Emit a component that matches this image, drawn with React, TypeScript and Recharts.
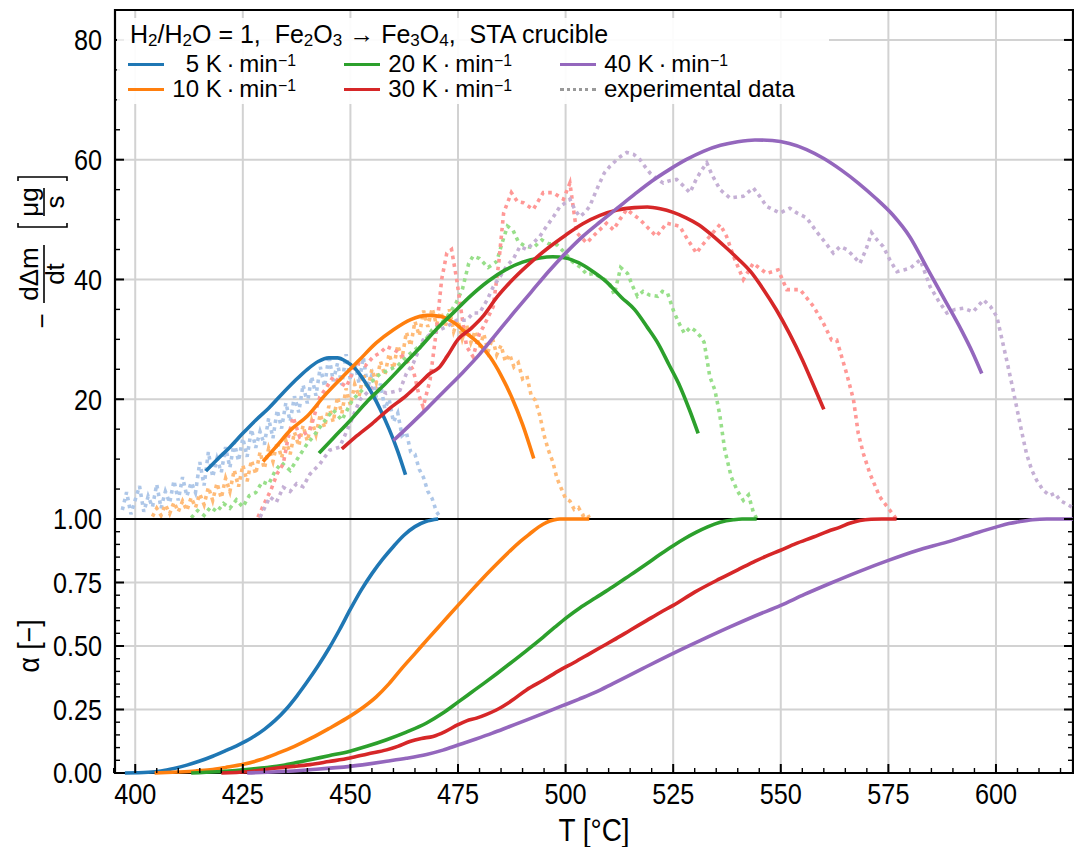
import React from "react";
import { LineChart, Line, XAxis, YAxis, CartesianGrid, ReferenceArea } from "recharts";

// frame of the figure (page pixels)
const FONT = "'Liberation Sans', Arial, sans-serif";
const W = 1074;
const LEFT = 115;
const RIGHT = 1073;
const TOP_H = 519;
const TOP_PAD = 10;
const BOT_H = 328;
const X_AXIS_H = 74;

const X_DOMAIN: [number, number] = [395.3, 617.9];
const X_MAJOR = [400, 425, 450, 475, 500, 525, 550, 575, 600];
const X_MINOR = [395, 405, 410, 415, 420, 430, 435, 440, 445, 455, 460, 465, 470, 480, 485, 490, 495,
  505, 510, 515, 520, 530, 535, 540, 545, 555, 560, 565, 570, 580, 585, 590, 595, 605, 610, 615];
const RATE_MAJOR = [20, 40, 60, 80];
const RATE_MINOR = [5, 10, 15, 25, 30, 35, 45, 50, 55, 65, 70, 75, 85];
const ALPHA_MAJOR = [0, 0.25, 0.5, 0.75, 1];
const ALPHA_MINOR = [0.05, 0.1, 0.15, 0.2, 0.3, 0.35, 0.4, 0.45, 0.55, 0.6, 0.65, 0.7, 0.8, 0.85, 0.9, 0.95];

const RATES = ["5", "10", "20", "30", "40"];
const COLORS = ["#1f77b4", "#ff7f0e", "#2ca02c", "#d62728", "#9467bd"];
const LIGHT = ["#aec7e8", "#ffbb78", "#98df8a", "#ff9896", "#c5b0d5"];

// model curves, -d(dm)/dt in µg/s  [T °C, value]
const MODEL_5 = [[416.4, 8.0], [419, 9.9], [422, 12.0], [425, 14.3], [428, 16.5], [431, 18.5], [434, 20.8],
  [437, 23.0], [440, 25.0], [442.5, 26.3], [445, 26.9], [447, 26.9], [449, 26.3], [451, 25.2], [453, 23.3],
  [455, 21.0], [457, 18.2], [459, 15.0], [461, 11.3], [462.8, 7.4]];
const MODEL_10 = [[429.7, 9.6], [433, 12.3], [436, 14.8], [440, 17.2], [444, 20.6], [448, 23.6], [452, 26.5],
  [456, 29.4], [460, 31.6], [464, 33.3], [468, 34.0], [471, 33.8], [474, 32.8], [477, 31.0], [480, 29.2],
  [482.5, 27.0], [485, 24.0], [487.5, 20.3], [490, 15.8], [492.6, 10.1]];
const MODEL_20 = [[442.7, 11.0], [446, 13.5], [450, 16.5], [454, 19.7], [458, 22.5], [462, 25.5], [466, 28.5],
  [470, 31.7], [474, 34.5], [478, 37.3], [482, 39.7], [486, 41.6], [490, 42.9], [494, 43.6], [497, 43.8],
  [500, 43.6], [503, 42.8], [506, 41.5], [509.5, 39.6], [513, 37.0], [516, 35.0], [519, 32.0], [521.5, 29.3],
  [524, 25.8], [526.6, 22.1], [528.8, 18.2], [530.8, 14.3]];
const MODEL_30 = [[448, 11.7], [451, 13.6], [455, 15.9], [459, 18.4], [463, 20.6], [466, 22.6], [468.5, 24.3],
  [470.5, 25.2], [472.5, 27.2], [475, 30.0], [478, 31.8], [481, 34.0], [484, 37.0], [488, 40.2], [492, 42.9],
  [496, 45.3], [500, 47.4], [504, 49.3], [508, 50.7], [512, 51.6], [516, 52.0], [519, 52.1], [522, 51.8],
  [525, 51.2], [528, 50.3], [531, 49.1], [534, 47.4], [537, 45.5], [540, 43.5], [543, 41.3], [546, 38.3],
  [549, 34.9], [552, 31.0], [555, 26.6], [557.5, 22.5], [560, 18.3]];
const MODEL_40 = [[460, 13.1], [464, 15.8], [468, 18.6], [472, 21.5], [476, 24.4], [480, 27.5], [484, 31.0],
  [488, 34.5], [492, 37.9], [496, 41.3], [500, 44.4], [504, 47.2], [508, 49.6], [512, 51.9], [516, 54.2],
  [520, 56.4], [524, 58.3], [528, 60.0], [532, 61.4], [536, 62.4], [540, 63.0], [544, 63.3], [548, 63.2],
  [552, 62.7], [556, 61.7], [560, 60.2], [564, 58.3], [568, 56.1], [572, 53.6], [576, 50.8], [580, 47.1],
  [584, 41.9], [588, 36.7], [592, 31.5], [594.5, 27.9], [596.7, 24.3]];

// experimental (STA) curves
const EXP_5 = [[397, 1.5], [398, 4.5], [399, 0.8], [400, 3.2], [401, 5.5], [402, 1.2], [403, 3.8], [404, 2.0],
  [405, 5.8], [406, 1.8], [407, 4.6], [408, 2.7], [409, 6.4], [410, 3.1], [411, 7.0], [412, 3.8], [413, 6.1],
  [414, 4.4], [415, 9.5], [416, 5.6], [417, 11.2], [418, 7.0], [419, 10.1], [420, 7.8], [421, 12.0], [422, 8.6],
  [423, 12.8], [424, 9.7], [425, 13.5], [426, 10.4], [427, 15.0], [428, 11.9], [429, 14.6], [430, 12.4],
  [431, 16.8], [432, 13.5], [433, 18.2], [434, 15.1], [435, 19.4], [436, 16.3], [437, 20.5], [438, 17.8],
  [439, 22.4], [440, 19.3], [441, 23.8], [442, 20.6], [443, 25.4], [444, 22.1], [445, 27.3], [446, 23.0],
  [447, 26.0], [448, 22.4], [449, 27.5], [450, 23.2], [451, 26.1], [452, 22.7], [453, 27.0], [454, 22.0],
  [455, 24.1], [456, 20.3], [457, 22.6], [458, 18.4], [459, 20.0], [460, 16.2], [461, 17.7], [462, 13.9],
  [463, 14.5], [464, 11.2], [465, 10.8], [466, 8.3], [467, 6.9], [468, 4.6], [469, 3.4], [470, 1.2], [470.8, 0.4]];
const EXP_10 = [[404, 0.4], [405, 1.8], [406, 0.6], [407, 2.4], [408, 0.9], [409, 2.8], [410, 1.2], [411, 3.0],
  [412, 1.4], [413, 3.6], [414, 1.9], [415, 4.2], [416, 2.4], [417, 5.3], [418, 3.1], [419, 6.0], [420, 3.5],
  [421, 6.8], [422, 4.6], [423, 8.2], [424, 5.4], [425, 9.0], [426, 6.3], [427, 9.8], [428, 7.5], [429, 11.2],
  [430, 8.4], [431, 11.8], [432, 9.6], [433, 12.9], [434, 10.2], [435, 13.1], [436, 10.8], [437, 14.5],
  [438, 12.2], [439, 15.6], [440, 13.0], [441, 16.4], [442, 14.1], [443, 17.5], [444, 15.3], [445, 18.9],
  [446, 16.2], [447, 20.4], [448, 17.6], [449, 21.8], [450, 19.0], [451, 22.5], [452, 20.4], [453, 24.2],
  [454, 21.7], [455, 25.0], [456, 22.8], [457, 26.3], [458, 24.0], [459, 27.6], [460, 25.1], [461, 29.0],
  [462, 26.8], [463, 31.2], [464, 28.9], [465, 33.0], [466, 30.6], [467, 34.8], [468, 32.1], [469, 35.2],
  [470, 32.4], [471, 34.6], [472, 32.0], [473, 35.0], [474, 31.3], [475, 33.2], [476, 30.1], [477, 32.4],
  [478, 29.5], [479, 31.4], [480, 28.6], [481, 30.9], [482, 28.0], [483, 30.2], [484, 27.4], [485, 29.0],
  [486, 26.3], [487, 27.5], [488, 25.4], [489, 26.1], [490, 23.4], [491, 23.9], [492, 20.6], [493, 19.8],
  [494, 17.3], [495, 14.0], [496, 11.5], [497, 9.6], [498, 6.8], [499, 5.1], [500, 3.4], [501, 3.0],
  [502, 1.6], [503, 1.9], [504, 0.6], [505, 0.9], [505.5, 0.2]];
const EXP_20 = [[413, 0.2], [414.5, 1.4], [416, 0.6], [417.5, 2.0], [419, 1.2], [420.5, 2.6], [422, 1.8],
  [423.5, 3.2], [425, 2.0], [426.5, 3.9], [428, 4.4], [429.5, 6.2], [431, 5.8], [432.5, 8.0], [434, 9.4],
  [436, 8.1], [438, 10.4], [440, 12.6], [441.5, 13.9], [443.5, 15.9], [446, 18.2], [448, 16.5], [450.5, 19.9],
  [452, 21.0], [453.5, 22.1], [455, 23.0], [457, 24.3], [459, 24.9], [461, 25.6], [463, 27.1], [465, 28.3],
  [467, 29.4], [469, 31.6], [471, 32.6], [472.5, 33.8], [474.5, 36.0], [476, 38.3], [477.5, 42.7],
  [478.5, 43.9], [480, 43.5], [482, 42.0], [484, 43.0], [485.2, 46.0], [486.5, 48.9], [487.8, 48.2],
  [489, 46.3], [490.5, 45.6], [492.5, 45.3], [494.5, 46.6], [496, 46.0], [498, 45.8], [500, 44.3],
  [501.5, 43.0], [503.5, 42.0], [505, 40.8], [506.6, 41.0], [508.5, 40.2], [510, 39.6], [511.3, 37.5],
  [512.8, 42.0], [514.4, 41.0], [515.5, 39.0], [516.7, 37.2], [518, 38.0], [519.5, 37.4], [521.4, 37.2],
  [522.5, 38.0], [523.7, 37.7], [525.2, 34.5], [526.5, 32.5], [527.6, 31.0], [529, 32.0], [530, 31.5],
  [531.3, 30.5], [532.2, 29.5], [533.5, 23.8], [534.7, 21.5], [535.8, 17.5], [537, 11.5], [538.5, 7.0],
  [540, 4.6], [541.3, 3.1], [542.5, 4.0], [543.6, 1.2], [544.4, 0.1]];
const EXP_30 = [[428.5, 0.3], [430, 2.6], [431.5, 4.8], [433, 7.6], [434.4, 9.2], [435.5, 13.5], [436.7, 17.0],
  [438.2, 13.7], [440.6, 14.8], [442.9, 20.4], [444.5, 22.0], [446, 23.8], [447.5, 22.8], [449.1, 22.1],
  [451.4, 26.0], [453.5, 25.6], [455.3, 27.1], [457, 27.8], [458.4, 28.8], [460, 28.3], [461.5, 27.7],
  [463, 26.5], [464.6, 24.9], [466, 20.5], [466.9, 18.7], [468.5, 23.2], [470, 31.6], [471.2, 40.0],
  [472.4, 44.4], [473.5, 45.0], [474.7, 40.0], [475.8, 34.4], [477, 28.8], [478.5, 27.1], [480, 31.0],
  [480.9, 32.1], [482.2, 34.0], [483.2, 35.5], [484.5, 43.0], [485.6, 51.1], [487.4, 54.5], [488.8, 53.0],
  [490.2, 52.8], [492.5, 51.7], [494.8, 54.5], [497.1, 54.5], [499.5, 53.4], [501, 56.1], [502.6, 47.8],
  [504.9, 46.1], [507.2, 47.8], [509.5, 49.4], [511.1, 48.3], [512.6, 50.0], [514.2, 51.7], [515.8, 50.8],
  [517.3, 50.0], [519.3, 48.5], [521.1, 47.2], [523.5, 49.4], [526.5, 48.9], [528.5, 46.5], [530.4, 44.4],
  [531.5, 45.5], [533.5, 47.2], [535.9, 49.2], [537.4, 47.2], [539, 43.9], [541.3, 40.0], [543.6, 42.7],
  [546.7, 41.0], [549.4, 41.6], [551.4, 38.3], [554.5, 38.3], [557.6, 35.5], [559.9, 32.7], [561.8, 29.9],
  [563, 29.9], [565.3, 24.3], [566.9, 19.9], [568, 14.3], [569.2, 10.9], [570.7, 7.6], [573, 3.7],
  [575.4, 1.4], [576.9, 0]];
const EXP_40 = [[429, 0.3], [431.3, 3.7], [432.8, 2.8], [434.4, 5.3], [436, 4.6], [437.5, 5.9], [439, 5.4],
  [440.6, 7.5], [442.9, 9.2], [445.2, 11.5], [447.5, 12.0], [449.9, 15.9], [452.2, 19.9], [455.3, 22.1],
  [458.4, 21.0], [461.5, 21.5], [463, 24.3], [464.6, 26.0], [466.9, 29.9], [468.5, 30.8], [470.8, 31.6],
  [472.3, 32.1], [474.7, 33.2], [477, 33.2], [478.5, 34.4], [480, 34.4], [481.7, 36.5], [483.2, 38.8],
  [484.8, 40.5], [486.3, 42.2], [487.9, 43.5], [489.4, 45.5], [491, 45.0], [492.5, 46.1], [494, 47.2],
  [495.6, 48.9], [497.2, 50.5], [498.7, 52.2], [500, 52.8], [501, 53.4], [502.2, 51.6], [503.3, 50.5],
  [504.5, 51.2], [505.6, 52.2], [506.8, 54.3], [507.9, 56.1], [509, 57.8], [510.3, 58.9], [512.3, 60.3],
  [514.2, 61.2], [515.8, 60.9], [517.3, 60.0], [518.5, 58.8], [519.6, 57.8], [521.2, 56.8], [522.7, 56.1],
  [524.2, 56.5], [525.8, 56.7], [527.4, 55.6], [528.9, 54.5], [530.2, 56.5], [531.2, 57.8], [532.8, 59.5],
  [534, 57.5], [535.9, 55.0], [538.2, 53.6], [541.3, 53.9], [543.6, 55.3], [545.2, 53.8], [546.7, 52.2],
  [549.8, 51.1], [552.1, 51.9], [554, 51.0], [556, 50.3], [558.3, 48.0], [560.2, 46.3], [562.2, 44.4],
  [563.8, 45.5], [565.3, 45.0], [566.9, 43.9], [568.4, 42.7], [569.8, 45.0], [571.1, 47.8], [572.5, 46.5],
  [573.8, 45.5], [575.4, 43.2], [577, 41.3], [578.6, 41.6], [580.1, 41.9], [582.4, 43.3], [584.7, 38.8],
  [586.6, 36.5], [588.6, 34.4], [590.5, 35.0], [592.4, 35.2], [594.7, 34.6], [597.1, 36.6], [598.7, 35.5],
  [600.2, 33.8], [601.4, 30.0], [602.5, 26.5], [603.7, 22.5], [604.8, 18.7], [606, 14.5], [607.1, 10.9],
  [608.3, 8.2], [609.5, 6.4], [611, 4.8], [612.5, 3.9], [613.7, 4.3], [614.9, 3.1], [616.4, 2.5], [617.6, 2.0]];

// conversion alpha [-]
const ALPHA_5 = [[397.6, 0], [403, 0.003], [406, 0.008], [409, 0.018], [412, 0.031], [415, 0.047], [418, 0.066],
  [421, 0.088], [424, 0.111], [427, 0.138], [430, 0.172], [432.5, 0.207], [435, 0.25], [437.5, 0.302],
  [440, 0.36], [442.5, 0.422], [445, 0.49], [447.5, 0.565], [450, 0.645], [452.5, 0.72], [455, 0.785],
  [457.5, 0.842], [460, 0.892], [462.5, 0.937], [465, 0.97], [467.5, 0.99], [470.4, 1.0]];
const ALPHA_10 = [[404.5, 0], [410, 0.004], [414, 0.008], [417.4, 0.013], [421, 0.022], [425.1, 0.034],
  [429, 0.052], [433, 0.077], [437, 0.105], [441, 0.138], [445, 0.175], [449, 0.214], [453, 0.259],
  [456, 0.3], [459, 0.352], [462, 0.413], [465, 0.47], [468, 0.528], [471.5, 0.594], [475, 0.66],
  [478, 0.716], [481, 0.771], [484, 0.823], [487, 0.873], [489.5, 0.912], [491.7, 0.942], [493.7, 0.968],
  [495.6, 0.987], [497.2, 0.996], [498.7, 1.0], [505.5, 1.0]];
const ALPHA_20 = [[413, 0], [419, 0.005], [425.1, 0.013], [432.9, 0.026], [436.8, 0.038], [440.6, 0.052],
  [445, 0.068], [449.9, 0.086], [454, 0.106], [458.4, 0.131], [463, 0.161], [467.7, 0.197], [471.5, 0.236],
  [475, 0.279], [478, 0.316], [481, 0.353], [484, 0.391], [487, 0.43], [491, 0.483], [494.8, 0.535],
  [497.5, 0.574], [500.3, 0.613], [503.3, 0.65], [507, 0.69], [511, 0.733], [515, 0.779], [518.8, 0.823],
  [522, 0.861], [525, 0.895], [527.7, 0.923], [530.4, 0.948], [533, 0.969], [535.9, 0.987], [539, 0.997],
  [541, 1.0], [544.4, 1.0]];
const ALPHA_30 = [[420, 0], [426, 0.005], [432.9, 0.02], [436.8, 0.026], [440.6, 0.033], [445, 0.045],
  [449.9, 0.059], [454, 0.075], [458.4, 0.091], [461, 0.105], [463.8, 0.124], [466.5, 0.136], [469.2, 0.144],
  [472, 0.163], [475, 0.19], [477, 0.205], [479.3, 0.216], [481.5, 0.23], [483.9, 0.248], [487.5, 0.285],
  [490.9, 0.327], [494.8, 0.365], [498.7, 0.405], [502, 0.435], [505.7, 0.471], [508.5, 0.498], [511.1, 0.523],
  [515, 0.562], [518.8, 0.6], [522, 0.632], [525, 0.66], [530, 0.712], [535.9, 0.765], [540, 0.8], [543.6, 0.83],
  [546.5, 0.853], [549.8, 0.876], [553.5, 0.903], [557.6, 0.929], [561, 0.952], [563.8, 0.968], [566, 0.983],
  [568.4, 0.994], [571, 0.999], [573.5, 1.0], [576.9, 1.0]];
const ALPHA_40 = [[426, 0], [433, 0.005], [440.6, 0.013], [449.9, 0.026], [454, 0.035], [458.4, 0.046],
  [463, 0.058], [467.7, 0.073], [471.5, 0.09], [475, 0.11], [479, 0.133], [483, 0.157], [487, 0.183],
  [491, 0.209], [495, 0.236], [499, 0.263], [503, 0.29], [507, 0.318], [511, 0.352], [518, 0.412],
  [525, 0.471], [531.5, 0.523], [538.2, 0.575], [544, 0.618], [550, 0.66], [555.5, 0.703], [561.4, 0.746],
  [568, 0.792], [575, 0.837], [581.5, 0.875], [588.6, 0.909], [594.5, 0.94], [600, 0.968], [603, 0.982],
  [605.6, 0.99], [608.5, 0.997], [611.8, 1.0], [617.9, 1.0]];

const MODELS = [MODEL_5, MODEL_10, MODEL_20, MODEL_30, MODEL_40];
const EXPS = [EXP_5, EXP_10, EXP_20, EXP_30, EXP_40];
const ALPHAS = [ALPHA_5, ALPHA_10, ALPHA_20, ALPHA_30, ALPHA_40];

const toPts = (arr: number[][]) => arr.map(([T, v]) => ({ T, v }));

const near = (list: number[], v: number) => list.some((m) => Math.abs(m - v) < 1e-6);

// tick labels are a little condensed in the original
const TICK_FS = 29;
const TICK_SX = 0.87;

// ticks point inward on every side, matplotlib style
function TopXTick(p: any) {
  const major = near(X_MAJOR, p.payload.value);
  const len = major ? 9 : 5;
  return <line x1={p.x} x2={p.x} y1={TOP_PAD} y2={TOP_PAD + len} stroke="#000" strokeWidth={major ? 2 : 1.4} />;
}

function BottomXTick(p: any) {
  const v = p.payload.value;
  const major = near(X_MAJOR, v);
  const len = major ? 9 : 5;
  return (
    <g>
      <line x1={p.x} x2={p.x} y1={p.y} y2={p.y - len} stroke="#000" strokeWidth={major ? 2 : 1.4} />
      {major && (
        <text
          transform={`translate(${p.x},${p.y + 31}) scale(${TICK_SX},1)`}
          textAnchor="middle"
          fontSize={TICK_FS}
          fontFamily={FONT}
          fill="#000"
        >
          {v}
        </text>
      )}
    </g>
  );
}

function makeYTick(majors: number[], fmt: (v: number) => string) {
  return (p: any) => {
    const v = p.payload.value;
    const major = near(majors, v);
    const len = major ? 9 : 5;
    const sw = major ? 2 : 1.4;
    return (
      <g>
        <line x1={LEFT} x2={LEFT + len} y1={p.y} y2={p.y} stroke="#000" strokeWidth={sw} />
        <line x1={RIGHT - len} x2={RIGHT} y1={p.y} y2={p.y} stroke="#000" strokeWidth={sw} />
        {major && (
          <text
            transform={`translate(${LEFT - 13},${p.y}) scale(${TICK_SX},1)`}
            dy="0.36em"
            textAnchor="end"
            fontSize={TICK_FS}
            fontFamily={FONT}
            fill="#000"
          >
            {fmt(v)}
          </text>
        )}
      </g>
    );
  };
}

const rateTick = makeYTick(RATE_MAJOR, (v) => String(v));
const alphaTick = makeYTick(ALPHA_MAJOR, (v) => v.toFixed(2));

// -dΔm/dt [µg/s], written sideways like the original
function RateLabel() {
  return (
    <g transform="translate(44,252) rotate(-90)" fontFamily={FONT} fontSize={26} fill="#000">
      <text x={-69} y={7} textAnchor="middle">−</text>
      <text x={-22} y={-6} textAnchor="middle">dΔm</text>
      <line x1={-51} x2={7} y1={0} y2={0} stroke="#000" strokeWidth={1.6} />
      <text x={-22} y={20} textAnchor="middle">dt</text>
      <path d="M29 -26 L25 -26 L25 23 L29 23" fill="none" stroke="#000" strokeWidth={1.6} />
      <text x={50} y={-6} textAnchor="middle">μg</text>
      <line x1={36} x2={64} y1={0} y2={0} stroke="#000" strokeWidth={1.6} />
      <text x={50} y={20} textAnchor="middle">s</text>
      <path d="M71 -26 L75 -26 L75 23 L71 23" fill="none" stroke="#000" strokeWidth={1.6} />
    </g>
  );
}

function AlphaLabel() {
  return (
    <text transform="translate(39,127) rotate(-90) scale(0.92,1)" textAnchor="middle" fontFamily={FONT} fontSize={29} fill="#000">
      α [−]
    </text>
  );
}

function TLabel() {
  return (
    <text
      transform={`translate(${(LEFT + RIGHT) / 2},322) scale(0.9,1)`}
      textAnchor="middle"
      fontFamily={FONT}
      fontSize={31}
      fill="#000"
    >
      T [°C]
    </text>
  );
}

const sub = (s: string) => (
  <span style={{ fontSize: "0.68em", position: "relative", top: "0.2em", lineHeight: 0 }}>{s}</span>
);
const unit = (
  <>
    {"K\u2009·\u2009min"}
    <span style={{ fontSize: "0.66em", position: "relative", top: "-0.36em", lineHeight: 0 }}>−1</span>
  </>
);

function LegendRow({ left, top, color, rate, dotted }: any) {
  return (
    <div style={{ position: "absolute", left, top, height: 22, display: "flex", alignItems: "center" }}>
      <div
        style={{
          width: 36,
          height: 0,
          borderTop: dotted ? `3px dotted ${color}` : `3.5px solid ${color}`,
          marginRight: dotted ? 8 : 6,
        }}
      />
      {dotted ? (
        <span>experimental data</span>
      ) : (
        <span>
          <span style={{ display: "inline-block", width: 29, textAlign: "right" }}>{rate}</span>
          {" "}
          {unit}
        </span>
      )}
    </div>
  );
}

function LegendBox() {
  return (
    <div
      style={{
        position: "absolute",
        left: 117,
        top: 18,
        width: 712,
        height: 86,
        background: "rgba(255,255,255,0.92)",
        fontFamily: FONT,
        fontSize: 24,
        lineHeight: "22px",
        color: "#000",
        whiteSpace: "nowrap",
      }}
    >
      <div style={{ position: "absolute", left: 13, top: 5, fontSize: 25 }}>
        H{sub("2")}/H{sub("2")}O = 1,&nbsp; Fe{sub("2")}O{sub("3")} → Fe{sub("3")}O{sub("4")},&nbsp; STA crucible
      </div>
      <LegendRow left={11} top={35} color={COLORS[0]} rate={RATES[0]} />
      <LegendRow left={11} top={60} color={COLORS[1]} rate={RATES[1]} />
      <LegendRow left={227} top={35} color={COLORS[2]} rate={RATES[2]} />
      <LegendRow left={227} top={60} color={COLORS[3]} rate={RATES[3]} />
      <LegendRow left={443} top={35} color={COLORS[4]} rate={RATES[4]} />
      <LegendRow left={443} top={60} color="#999999" dotted />
    </div>
  );
}

const X_TICKS = [...X_MAJOR, ...X_MINOR].sort((a, b) => a - b);
const RATE_TICKS = [...RATE_MAJOR, ...RATE_MINOR].sort((a, b) => a - b);
const ALPHA_TICKS = [...ALPHA_MAJOR, ...ALPHA_MINOR].sort((a, b) => a - b);

export default function App() {
  return (
    <div style={{ position: "absolute", left: 0, top: 0, width: W, height: 847, background: "#fff", fontFamily: FONT }}>
      <style>{`.recharts-surface{overflow:visible}`}</style>

      {/* upper panel: mass loss rate */}
      <div style={{ position: "absolute", left: 0, top: 0 }}>
        <LineChart width={W} height={TOP_H} margin={{ top: TOP_PAD, right: W - RIGHT, bottom: 0, left: 0 }}>
          <CartesianGrid verticalValues={X_MAJOR} horizontalValues={RATE_MAJOR} stroke="#d2d2d2" strokeWidth={2} />
          <XAxis
            type="number"
            dataKey="T"
            domain={X_DOMAIN}
            ticks={X_TICKS}
            interval={0}
            height={0}
            tickSize={0}
            tickMargin={0}
            axisLine={false}
            tickLine={false}
            tick={TopXTick}
          />
          <YAxis
            type="number"
            domain={[0, 85]}
            ticks={RATE_TICKS}
            interval={0}
            width={LEFT}
            tickSize={0}
            tickMargin={0}
            axisLine={false}
            tickLine={false}
            tick={rateTick}
            label={<RateLabel />}
          />
          <ReferenceArea x1={X_DOMAIN[0]} x2={X_DOMAIN[1]} y1={0} y2={85} fill="none" stroke="#000" strokeWidth={2.2} />
          {EXPS.map((d, i) => (
            <Line
              key={`exp${i}`}
              data={toPts(d)}
              dataKey="v"
              type="linear"
              stroke={LIGHT[i]}
              strokeWidth={3.6}
              strokeDasharray="3.6 4.2"
              dot={false}
              activeDot={false}
              isAnimationActive={false}
            />
          ))}
          {MODELS.map((d, i) => (
            <Line
              key={`mod${i}`}
              data={toPts(d)}
              dataKey="v"
              type="monotone"
              stroke={COLORS[i]}
              strokeWidth={3.6}
              dot={false}
              activeDot={false}
              isAnimationActive={false}
            />
          ))}
        </LineChart>
      </div>

      {/* lower panel: conversion */}
      <div style={{ position: "absolute", left: 0, top: TOP_H }}>
        <LineChart width={W} height={BOT_H} margin={{ top: 0, right: W - RIGHT, bottom: 0, left: 0 }}>
          <CartesianGrid verticalValues={X_MAJOR} horizontalValues={[0.25, 0.5, 0.75]} stroke="#d2d2d2" strokeWidth={2} />
          <XAxis
            type="number"
            dataKey="T"
            domain={X_DOMAIN}
            ticks={X_TICKS}
            interval={0}
            height={X_AXIS_H}
            tickSize={0}
            tickMargin={0}
            axisLine={false}
            tickLine={false}
            tick={BottomXTick}
            label={<TLabel />}
          />
          <YAxis
            type="number"
            domain={[0, 1]}
            ticks={ALPHA_TICKS}
            interval={0}
            width={LEFT}
            tickSize={0}
            tickMargin={0}
            axisLine={false}
            tickLine={false}
            tick={alphaTick}
            label={<AlphaLabel />}
          />
          <ReferenceArea x1={X_DOMAIN[0]} x2={X_DOMAIN[1]} y1={0} y2={1} fill="none" stroke="#000" strokeWidth={2.2} />
          {ALPHAS.map((d, i) => (
            <Line
              key={`a${i}`}
              data={toPts(d)}
              dataKey="v"
              type="monotone"
              stroke={COLORS[i]}
              strokeWidth={3.6}
              dot={false}
              activeDot={false}
              isAnimationActive={false}
            />
          ))}
        </LineChart>
      </div>

      <LegendBox />
    </div>
  );
}
